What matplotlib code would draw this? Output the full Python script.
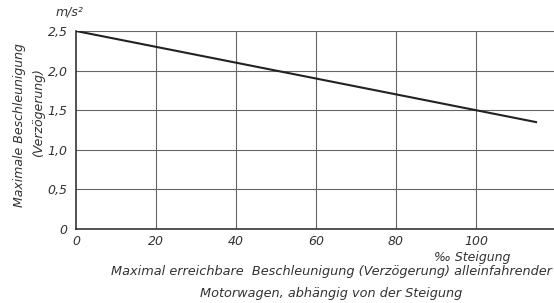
import matplotlib
matplotlib.use("Agg")
import matplotlib.pyplot as plt

# data
gradient = [0, 115]          # ‰ Steigung
accel = [2.5, 1.35]          # m/s²
xticks = [0, 20, 40, 60, 80, 100]
xticklabels = ["0", "20", "40", "60", "80", "100"]
yticks = [0, 0.5, 1.0, 1.5, 2.0, 2.5]
yticklabels = ["0", "0,5", "1,0", "1,5", "2,0", "2,5"]

plt.rcParams['font.family'] = ['DejaVu Sans']
fig = plt.figure(figsize=(5.54, 3.03), dpi=100)
ax = fig.add_axes([76/554, 74/303, 1 - 76/554, 198/303])

tc = "#333333"
gc = "#666666"
ax.set_xlim(0, 119.5)
ax.set_ylim(0, 2.5)
for x in xticks[1:]:
    ax.axvline(x, color=gc, lw=0.8, zorder=1)
for y in yticks[1:]:
    ax.axhline(y, color=gc, lw=0.8, zorder=1)
ax.plot(gradient, accel, color="#222222", lw=1.5, zorder=3)

for s in ["top", "right"]:
    ax.spines[s].set_visible(False)
ax.spines["left"].set_color("#333333")
ax.spines["bottom"].set_color("#333333")
ax.spines["left"].set_linewidth(1.2)
ax.spines["bottom"].set_linewidth(1.2)

ax.set_xticks(xticks)
ax.set_xticklabels(xticklabels, fontstyle="italic", fontsize=9, color=tc)
ax.set_yticks(yticks)
ax.set_yticklabels(yticklabels, fontstyle="italic", fontsize=9, color=tc)
ax.tick_params(axis="x", length=0, pad=4)
ax.tick_params(axis="y", length=0, pad=6)

fig.text(69/554, 1 - 12/303, "m/s²", fontstyle="italic", fontsize=9, color=tc, ha="center", va="center")
fig.text(20/554, 1 - 125/303, "Maximale Beschleunigung", fontstyle="italic", fontsize=9,
         color=tc, rotation=90, ha="center", va="center")
fig.text(39/554, 1 - 113/303, "(Verzögerung)", fontstyle="italic", fontsize=9,
         color=tc, rotation=90, ha="center", va="center")
fig.text(472/554, 1 - 258/303, "‰ Steigung", fontstyle="italic", fontsize=9, color=tc,
         ha="center", va="center")
fig.text(331/554, 1 - 272/303, "Maximal erreichbare  Beschleunigung (Verzögerung) alleinfahrender",
         fontstyle="italic", fontsize=9.3, color=tc, ha="center", va="center")
fig.text(331/554, 1 - 293/303, "Motorwagen, abhängig von der Steigung",
         fontstyle="italic", fontsize=9.3, color=tc, ha="center", va="center")

fig.savefig("out.png", dpi=100, facecolor="white")
